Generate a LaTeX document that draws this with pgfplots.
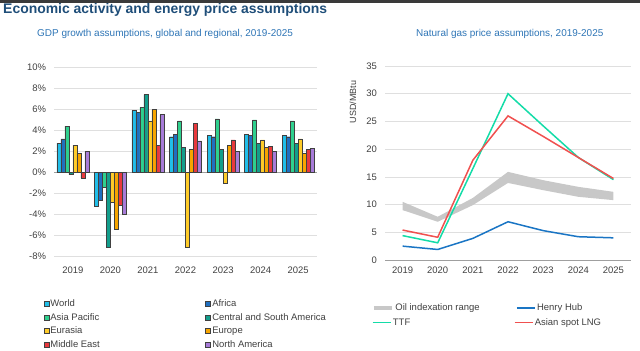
\documentclass[border=0pt]{standalone}
\usepackage{pgfplots}
\pgfplotsset{compat=1.18}
\usepackage{fontspec}
\setmainfont{Liberation Sans}
\definecolor{titleblue}{HTML}{1F4E79}
\definecolor{subblue}{HTML}{2E75B6}
\definecolor{topbar}{HTML}{3A3A3A}
\definecolor{ticktext}{HTML}{404040}
\definecolor{barline}{HTML}{404040}
\definecolor{cWorld}{HTML}{21BEE8}
\definecolor{cAfrica}{HTML}{1F6FC0}
\definecolor{cAsia}{HTML}{2FD08E}
\definecolor{cCSA}{HTML}{139E8C}
\definecolor{cEurasia}{HTML}{FFCC29}
\definecolor{cEurope}{HTML}{F7A500}
\definecolor{cME}{HTML}{E8393D}
\definecolor{cNA}{HTML}{A77BD8}
\definecolor{cHH}{HTML}{1A75C4}
\definecolor{cTTF}{HTML}{14DCA8}
\definecolor{cLNG}{HTML}{F0504F}
\definecolor{cBand}{HTML}{C8C8C8}
\pgfplotsset{
  gaslegend/.style={
    legend columns=2, legend cell align=left,
    legend image code/.code={\draw[##1] (0bp,0bp) -- (18bp,0bp);},
    legend style={anchor=north west, draw=none, fill=none,
      font=\fontsize{9.5}{11}\selectfont, text=ticktext, row sep=0pt,
      nodes={inner sep=1.5bp, text height=8.3bp, text depth=2.4bp}}},
}
\begin{document}
\begin{tikzpicture}[x=1bp,y=1bp]
\node[anchor=base west, font=\fontsize{14}{16}\selectfont\bfseries, text=titleblue, inner sep=0] at (3bp,337.5bp) {Economic activity and energy price assumptions};
\fill[topbar] (0bp,348bp) rectangle (640bp,351bp);
\node[anchor=base west, font=\fontsize{10}{12}\selectfont, text=subblue, inner sep=0] at (37bp,314.5bp) {GDP growth assumptions, global and regional, 2019-2025};
\node[anchor=base west, font=\fontsize{10}{12}\selectfont, text=subblue, inner sep=0] at (416bp,314.5bp) {Natural gas price assumptions, 2019-2025};

\begin{axis}[at={(54bp,94.3bp)}, anchor=south west, scale only axis,
  width=263bp, height=189.4bp,
  ybar=0pt, bar width=4bp,
  xmin=-0.5, xmax=6.5, ymin=-8, ymax=10,
  ytick={-8,-6,-4,-2,0,2,4,6,8,10},
  yticklabels={-8\%,-6\%,-4\%,-2\%,0\%,2\%,4\%,6\%,8\%,10\%},
  xtick={0,1,2,3,4,5,6},
  xticklabels={2019,2020,2021,2022,2023,2024,2025},
  axis line style={draw=none}, major tick length=0pt,
  ymajorgrids, grid style={gray!25, line width=0.6bp},
  extra y ticks={0}, extra y tick labels={},
  extra y tick style={grid style={gray!75, line width=0.8bp}},
  tick label style={font=\fontsize{9.5}{11}\selectfont, text=ticktext},
  yticklabel style={xshift=-4.5bp},
  xticklabel style={yshift=-6.5bp},
  every axis plot/.append style={draw=barline, line width=0.4bp},
  legend columns=2, legend cell align=left,
  legend image code/.code={\draw[#1, draw=barline, line width=0.4bp] (0bp,-2.5bp) rectangle (5bp,2.5bp);},
  legend style={at={(axis description cs:-0.052,-0.2)}, anchor=north west, draw=none, fill=none,
    font=\fontsize{9.5}{11}\selectfont, text=ticktext, row sep=0pt,
    nodes={inner sep=1.5bp, text height=8.3bp, text depth=2.4bp},
    /tikz/every even column/.append style={column sep=104bp}},
]
\addplot[fill=cWorld] coordinates {(0,2.8) (1,-3.2) (2,5.9) (3,3.4) (4,3.5) (5,3.6) (6,3.5)};
\addlegendentry{World}
\addplot[fill=cAfrica] coordinates {(0,3.2) (1,-2.6) (2,5.7) (3,3.6) (4,3.4) (5,3.5) (6,3.4)};
\addlegendentry{Africa}
\addplot[fill=cAsia] coordinates {(0,4.4) (1,-1.4) (2,6.2) (3,4.9) (4,5.1) (5,5.0) (6,4.9)};
\addlegendentry{Asia Pacific}
\addplot[fill=cCSA] coordinates {(0,-0.2) (1,-7.1) (2,7.4) (3,2.4) (4,2.2) (5,2.8) (6,2.8)};
\addlegendentry{Central and South America}
\addplot[fill=cEurasia] coordinates {(0,2.6) (1,-2.8) (2,4.9) (3,-7.1) (4,-1.0) (5,3.1) (6,3.2)};
\addlegendentry{Eurasia}
\addplot[fill=cEurope] coordinates {(0,1.8) (1,-5.4) (2,6.0) (3,2.2) (4,2.6) (5,2.4) (6,1.8)};
\addlegendentry{Europe}
\addplot[fill=cME] coordinates {(0,-0.5) (1,-3.1) (2,2.6) (3,4.7) (4,3.1) (5,2.5) (6,2.2)};
\addlegendentry{Middle East}
\addplot[fill=cNA] coordinates {(0,2.0) (1,-4.0) (2,5.5) (3,3.0) (4,2.0) (5,2.0) (6,2.3)};
\addlegendentry{North America}
\end{axis}

\begin{axis}[at={(385bp,91bp)}, anchor=south west, scale only axis,
  width=246bp, height=194bp,
  xmin=-0.5, xmax=6.5, ymin=0, ymax=35,
  ytick={0,5,10,15,20,25,30,35},
  xtick={0,1,2,3,4,5,6},
  xticklabels={2019,2020,2021,2022,2023,2024,2025},
  axis x line*=bottom, axis y line*=left,
  y axis line style={draw=none},
  x axis line style={draw=gray!75, line width=0.8bp, -},
  major tick length=0pt,
  ymajorgrids, grid style={gray!25, line width=0.6bp},
  /pgf/number format/assume math mode=true,
  tick label style={font=\fontsize{9.5}{11}\selectfont, text=ticktext},
  yticklabel style={xshift=-4.5bp},
  xticklabel style={yshift=-3bp},
  gaslegend,
  legend style={at={(axis description cs:-0.066,-0.2)},
    /tikz/every even column/.append style={column sep=35bp}},
]
% oil indexation band: upper edge left to right, lower edge right to left
\addplot[fill=cBand, draw=none, forget plot] coordinates {(0,10.5) (1,7.8) (2,11.2) (3,15.9) (4,14.4) (5,13.2) (6,12.3)
  (6,10.8) (5,11.4) (4,12.6) (3,13.9) (2,9.9) (1,6.9) (0,9.0)} -- cycle;
\addlegendimage{cBand, line width=4bp}
\addlegendentry{Oil indexation range}
\addplot[cHH, line width=1.5bp] coordinates {(0,2.5) (1,1.9) (2,3.9) (3,6.9) (4,5.3) (5,4.2) (6,4.0)};
\addlegendentry{Henry Hub}
\addplot[cTTF, line width=1.5bp, forget plot] coordinates {(0,4.4) (1,3.1) (2,16.5) (3,30.0) (4,24.2) (5,18.5) (6,14.5)};
\addplot[cLNG, line width=1.5bp, forget plot] coordinates {(0,5.4) (1,4.1) (2,18.0) (3,26.0) (4,22.3) (5,18.5) (6,14.7)};
\end{axis}

% second legend row for the gas chart (TTF, Asian spot LNG)
\begin{axis}[at={(385bp,91bp)}, anchor=south west, scale only axis,
  width=246bp, height=194bp, hide axis,
  xmin=-0.5, xmax=6.5, ymin=0, ymax=35,
  gaslegend,
  legend style={at={(axis description cs:-0.066,-0.275)},
    /tikz/every even column/.append style={column sep=102bp}},
]
\addlegendimage{cTTF, line width=1.5bp}
\addlegendentry{TTF}
\addlegendimage{cLNG, line width=1.5bp}
\addlegendentry{Asian spot LNG}
\end{axis}
\node[rotate=90, font=\fontsize{9}{11}\selectfont, text=ticktext] at (353bp,249bp) {USD/MBtu};
\pgfresetboundingbox
\useasboundingbox (0bp,0bp) rectangle (640bp,351bp);
\end{tikzpicture}
\end{document}
